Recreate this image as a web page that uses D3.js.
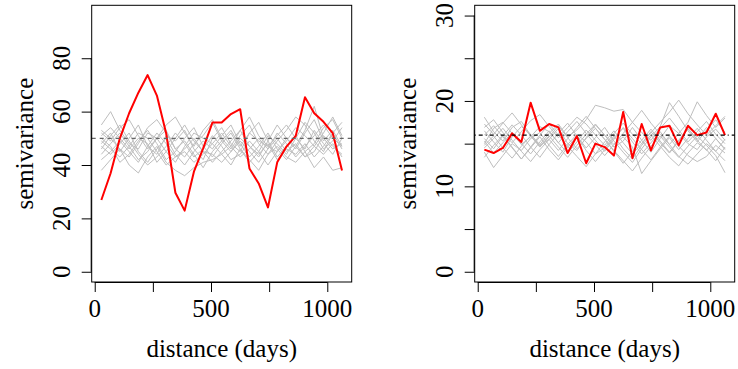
<!DOCTYPE html>
<html>
<head>
<meta charset="utf-8">
<script src="https://cdn.jsdelivr.net/npm/d3@7"></script>
<style>
  body { margin: 0; background: #fff; }
  #plot text { font-family: "Liberation Serif", "Times New Roman", serif; font-size: 25px; fill: #000; }
</style>
</head>
<body>
<svg id="plot" width="738" height="369">
  <g id="labels">
    <text class="xlab" data-p="0" data-v="0">0</text>
    <text class="xlab" data-p="0" data-v="500">500</text>
    <text class="xlab" data-p="0" data-v="1000">1000</text>
    <text class="ylab" data-p="0" data-v="0">0</text>
    <text class="ylab" data-p="0" data-v="20">20</text>
    <text class="ylab" data-p="0" data-v="40">40</text>
    <text class="ylab" data-p="0" data-v="60">60</text>
    <text class="ylab" data-p="0" data-v="80">80</text>
    <text class="xtitle" data-p="0">distance (days)</text>
    <text class="ytitle" data-p="0">semivariance</text>
    <text class="xlab" data-p="1" data-v="0">0</text>
    <text class="xlab" data-p="1" data-v="500">500</text>
    <text class="xlab" data-p="1" data-v="1000">1000</text>
    <text class="ylab" data-p="1" data-v="0">0</text>
    <text class="ylab" data-p="1" data-v="10">10</text>
    <text class="ylab" data-p="1" data-v="20">20</text>
    <text class="ylab" data-p="1" data-v="30">30</text>
    <text class="xtitle" data-p="1">distance (days)</text>
    <text class="ytitle" data-p="1">semivariance</text>
  </g>
</svg>
<script>
// lag distances (days), shared by both panels
var distance = [28.5, 68.3, 108.1, 147.9, 187.7, 227.5, 267.3, 307.1, 346.9, 386.7, 426.5, 466.3, 506.1, 545.9,
  585.7, 625.5, 665.3, 705.1, 744.9, 784.7, 824.5, 864.3, 904.1, 943.9, 983.7, 1023.5, 1063.3];

// left panel: observed variogram + simulated envelopes
var obsLeft = [26.9, 36.9, 50.0, 59.4, 67.1, 73.7, 66.0, 51.9, 29.6, 22.9, 37.5, 46.2, 55.9, 55.9,
  59.1, 60.9, 38.7, 33.1, 24.1, 41.0, 46.9, 50.9, 65.4, 59.4, 56.2, 51.9, 37.9];
var sillLeft = 50;
var simLeft = [
  [48,52,45,50,55,47,44,51,49,53,46,42,50,54,48,45,52,49,47,51,55,50,46,53,48,44,50],
  [55,60,53,48,46,52,50,45,41,47,52,50,48,44,47,53,58,51,47,45,49,54,51,47,52,58,51],
  [44,48,52,47,42,45,50,53,46,43,48,51,56,49,45,50,47,43,49,55,50,46,52,57,49,53,47],
  [50,47,41,44,49,53,48,42,45,50,54,47,43,48,52,46,41,45,51,48,44,50,56,52,46,49,54],
  [38,42,46,40,37,43,47,41,38,36,39,41,42,44,40,46,42,38,44,47,43,41,45,39,43,38,39],
  [52,49,54,57,51,46,50,55,58,52,47,53,57,50,46,51,55,48,44,49,53,58,55,49,45,52,56],
  [47,44,48,52,45,41,46,50,44,40,45,49,46,51,55,48,43,47,52,46,42,47,53,62,50,46,48],
  [53,50,46,43,48,54,57,52,46,49,44,39,45,49,53,47,52,56,49,43,47,51,45,48,54,57,50],
  [46,51,55,49,44,40,43,47,52,48,43,46,51,47,42,44,49,45,40,45,50,47,43,45,51,47,44],
  [49,46,43,47,52,50,45,40,43,46,50,45,41,45,49,53,47,44,48,42,46,44,48,43,47,52,46],
  [42,45,49,45,41,47,52,48,43,45,41,44,48,52,47,43,46,50,46,50,45,48,43,47,44,48,43],
  [51,54,50,46,50,48,41,45,50,55,49,45,44,41,45,49,45,41,46,52,48,43,47,51,55,50,47]
];

// right panel
var obsRight = [14.3, 13.9, 14.5, 16.2, 15.2, 19.8, 16.5, 17.3, 16.9, 13.9, 15.9, 12.7, 15.0, 14.6,
  13.6, 18.7, 13.3, 17.3, 14.2, 16.9, 17.1, 14.8, 17.1, 16.0, 16.3, 18.5, 16.0];
var sillRight = 16;
var simRight = [
  [16.5,15.2,14.0,15.8,17.0,16.1,14.8,15.5,16.8,15.0,14.2,15.7,17.2,16.0,14.6,15.3,16.9,15.4,14.0,15.6,17.1,16.2,15.0,14.3,15.8,16.7,15.4],
  [14.0,12.2,13.6,15.0,14.2,15.6,16.3,14.8,13.5,14.9,16.1,15.2,13.8,14.5,15.9,14.4,13.2,14.8,16.0,14.7,13.4,12.4,13.9,15.1,14.3,13.0,14.6],
  [18.1,16.4,15.3,16.9,17.6,16.0,14.9,16.2,17.3,15.8,16.6,17.8,19.5,19.2,18.8,19.0,17.5,16.3,15.4,16.8,18.0,16.6,15.2,16.4,17.6,16.1,15.0],
  [15.0,16.8,17.5,16.2,14.9,15.8,17.0,16.4,15.1,13.9,15.2,16.6,15.4,14.1,15.5,16.9,15.6,14.3,13.1,14.6,15.9,14.7,13.6,12.9,13.5,14.8,13.9],
  [15.6,14.4,15.9,17.2,16.0,14.6,13.4,14.9,16.2,17.4,15.9,14.5,15.7,16.9,15.3,14.0,12.8,14.4,15.8,17.0,19.8,18.2,16.5,15.2,16.6,17.8,16.3],
  [13.4,14.8,16.0,14.6,13.2,14.5,15.8,14.3,13.1,14.6,15.9,14.2,12.9,14.3,15.7,16.8,15.2,13.8,15.1,16.4,14.9,13.5,12.6,13.8,15.0,14.1,13.0],
  [16.9,17.8,16.3,15.1,16.4,17.7,18.4,17.0,15.7,16.9,18.1,17.3,16.0,14.8,16.2,17.4,16.1,15.0,16.3,17.5,18.7,20.1,18.5,17.2,16.0,17.1,18.2],
  [14.8,15.9,14.5,13.3,14.7,15.9,14.6,15.8,17.1,15.7,14.4,15.6,16.8,15.5,14.2,13.0,11.8,13.3,14.7,15.9,14.6,13.4,14.7,15.9,14.8,13.6,11.6],
  [17.3,16.1,17.4,18.6,17.2,15.9,14.7,15.9,14.6,13.4,14.8,16.1,17.3,16.0,14.9,16.2,17.5,18.9,17.4,16.1,14.9,16.2,17.5,19.9,18.3,16.9,18.0],
  [15.3,13.9,15.1,16.3,15.0,13.8,15.2,16.5,15.1,16.4,17.6,16.2,14.9,13.6,14.9,15.8,14.6,11.5,13.0,14.4,15.7,14.3,15.6,16.8,15.4,14.1,15.5],
  [16.0,17.1,15.8,14.5,13.2,14.6,16.0,17.3,16.0,14.7,13.5,12.3,13.8,15.2,16.5,15.1,13.8,15.0,16.4,15.1,13.9,15.3,16.7,15.4,14.2,15.6,14.3],
  [14.5,15.6,16.8,15.4,14.1,12.9,14.3,15.5,14.2,15.6,16.9,18.2,16.8,15.5,14.1,12.7,14.1,15.4,16.7,15.3,14.0,15.4,16.8,15.5,16.9,15.6,14.4]
];

// tick values (labels themselves are in the markup above)
var xTicks = [0, 250, 500, 750, 1000];
var yTicksLeft = [0, 20, 40, 60, 80];
var yTicksRight = [0, 5, 10, 15, 20, 25, 30];

var svg = d3.select("#plot");
var labels = d3.select("#labels");
var top_ = 5.3, bottom = 282, pw = 260;

function panel(p, left, obs, sims, sill, yDomain, yTicks, sillDash, sillColor) {
  var g = svg.insert("g", "#labels");
  var x = d3.scaleLinear().domain([-13, 1105]).range([left, left + pw]);
  var y = d3.scaleLinear().domain(yDomain).range([bottom, top_]);

  var line = d3.line()
      .x(function(d, i) { return x(distance[i]); })
      .y(function(d) { return y(d); });

  // simulated envelopes
  g.selectAll("path.sim").data(sims).enter().append("path")
      .attr("class", "sim")
      .attr("d", line)
      .attr("fill", "none")
      .attr("stroke", "#bebebe")
      .attr("stroke-width", 1);

  // observed
  g.append("path")
      .datum(obs)
      .attr("d", line)
      .attr("fill", "none")
      .attr("stroke", "#ff0000")
      .attr("stroke-width", 2)
      .attr("stroke-linejoin", "round");

  // sill line
  g.append("line")
      .attr("x1", left).attr("x2", left + pw)
      .attr("y1", y(sill)).attr("y2", y(sill))
      .attr("stroke", sillColor)
      .attr("stroke-width", 1.2)
      .attr("stroke-dasharray", sillDash);

  // box
  g.append("rect")
      .attr("x", left).attr("y", top_)
      .attr("width", pw).attr("height", bottom - top_)
      .attr("fill", "none")
      .attr("stroke", "#000")
      .attr("stroke-width", 1);

  // x axis ticks (no text; labels placed below)
  var xa = g.append("g")
      .attr("transform", "translate(0," + bottom + ")")
      .call(d3.axisBottom(x).tickValues(xTicks).tickSize(10).tickSizeOuter(0).tickFormat(""));
  xa.select(".domain").attr("d", "M" + x(0) + ",0.5H" + x(1000)).attr("stroke", "#000");
  xa.selectAll("text").remove();

  // y axis ticks
  var ya = g.append("g")
      .attr("transform", "translate(" + left + ",0)")
      .call(d3.axisLeft(y).tickValues(yTicks).tickSize(10).tickSizeOuter(0).tickFormat(""));
  ya.select(".domain").attr("d", "M-0.5," + y(yTicks[0]) + "V" + y(yTicks[yTicks.length - 1])).attr("stroke", "#000");
  ya.selectAll("text").remove();

  // place the text labels with the scales
  labels.selectAll("text.xlab").filter(function() { return +this.dataset.p === p; })
      .attr("x", function() { return x(+this.dataset.v); })
      .attr("y", bottom + 35)
      .attr("text-anchor", "middle");
  labels.selectAll("text.ylab").filter(function() { return +this.dataset.p === p; })
      .attr("text-anchor", "middle")
      .attr("transform", function() {
        return "translate(" + (left - 22) + "," + y(+this.dataset.v) + ") rotate(-90)";
      });
  labels.selectAll("text.xtitle").filter(function() { return +this.dataset.p === p; })
      .attr("x", left + pw / 2).attr("y", 357)
      .attr("text-anchor", "middle");
  labels.selectAll("text.ytitle").filter(function() { return +this.dataset.p === p; })
      .attr("text-anchor", "middle")
      .attr("transform", "translate(" + (left - 59) + "," + ((top_ + bottom) / 2) + ") rotate(-90)");
}

panel(0, 91.7, obsLeft, simLeft, sillLeft, [-3.84, 99.84], yTicksLeft, "4,4", "#666");
panel(1, 474.7, obsRight, simRight, sillRight, [-1.2, 31.2], yTicksRight, "1,3,4,3", "#000");
</script>
</body>
</html>
